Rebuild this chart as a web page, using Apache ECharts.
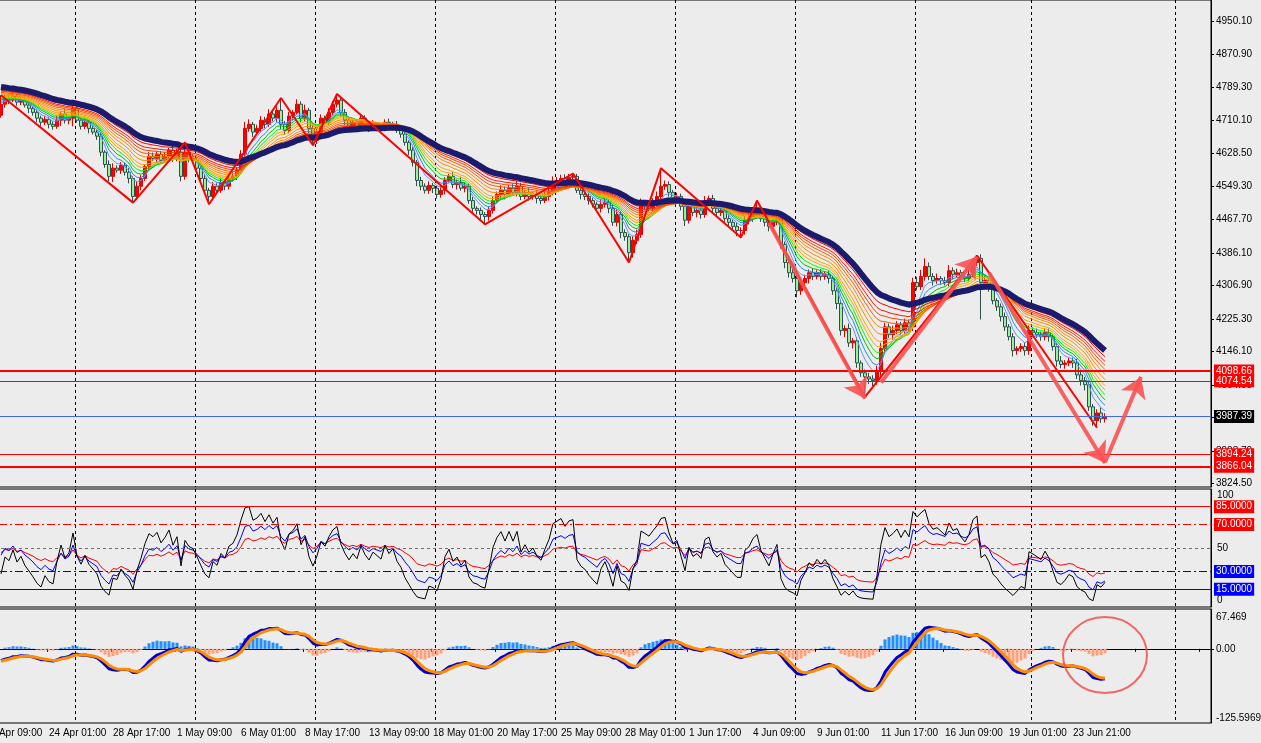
<!DOCTYPE html>
<html>
<head>
<meta charset="utf-8">
<script src="https://cdn.jsdelivr.net/npm/echarts@6/dist/echarts.min.js"></script>
<style>
html, body { margin: 0; padding: 0; background: #ececec; }
#main { width: 1261px; height: 743px; }
</style>
</head>
<body>
<div id="main"></div>
<script>
// H4 closes (one per candle, left to right)
var closes = [
  4749,4764,4759,4769,4754,4759,4747,4739,4729,4715,
  4705,4712,4700,4695,4710,4725,4710,4715,4739,4710,
  4695,4705,4690,4681,4671,4632,4602,4573,4593,4588,
  4600,4583,4568,4524,4549,4568,4597,4622,4617,4627,
  4612,4622,4637,4617,4632,4573,4632,4617,4612,4593,
  4568,4539,4524,4549,4539,4558,4549,4568,4573,4588,
  4627,4690,4700,4681,4690,4710,4700,4725,4715,4734,
  4700,4685,4720,4729,4749,4715,4734,4690,4661,4681,
  4715,4705,4729,4749,4759,4729,4710,4695,4705,4695,
  4715,4700,4690,4700,4695,4690,4705,4695,4700,4685,
  4676,4656,4637,4607,4563,4549,4539,4551,4544,4529,
  4539,4563,4573,4553,4558,4544,4549,4514,4495,4490,
  4480,4475,4490,4514,4529,4539,4529,4544,4534,4549,
  4524,4534,4524,4529,4519,4514,4524,4534,4558,4563,
  4568,4563,4571,4573,4539,4529,4524,4514,4505,4495,
  4505,4510,4495,4461,4480,4436,4426,4387,4417,4431,
  4505,4500,4495,4510,4524,4549,4553,4534,4519,4524,
  4500,4466,4505,4485,4490,4480,4514,4519,4495,4485,
  4490,4470,4461,4451,4441,4441,4466,4470,4480,4485,
  4470,4461,4451,4461,4470,4407,4363,4338,4324,4294,
  4314,4324,4338,4329,4338,4329,4334,4324,4294,4263,
  4197,4202,4167,4172,4118,4094,4084,4079,4075,4099,
  4153,4206,4187,4197,4211,4197,4216,4206,4314,4304,
  4329,4353,4329,4319,4324,4319,4314,4343,4334,4338,
  4329,4324,4334,4363,4373,4314,4319,4304,4270,4255,
  4231,4206,4182,4148,4153,4158,4148,4197,4192,4187,
  4182,4192,4182,4158,4123,4114,4118,4123,4118,4089,
  4075,4065,4011,3977,3996,3982,3987.39
];
var firstOpen = 4722;
// upper and lower shadows (price units)
var upWicks = [
  22,8,6,10,5,8,6,9,5,7, 6,8,5,7,10,6,12,5,18,8, 6,9,5,7,6,8,5,10,12,7,
  8,6,10,5,12,8,6,10,9,7, 8,10,6,12,8,10,24,6,9,7, 5,8,6,10,7,12,6,8,10,7,
  10,16,12,6,9,10,8,12,7,10, 30,8,10,6,12,7,14,6,8,10, 9,6,10,8,15,6,8,7,10,6,
  9,7,6,10,5,8,7,9,6,8, 6,7,5,8,6,9,7,10,6,8, 12,8,6,10,7,14,8,6,9,5,
  7,6,8,10,7,12,9,8,10,12, 8,6,10,7,9,6,12,10,15,8, 9,10,8,7,6,8,5,9,7,6,
  10,8,6,9,12,7,8,6,10,12, 14,8,6,10,12,44,10,8,6,9, 7,10,12,8,6,9,11,7,9,6,
  8,6,10,7,9,8,10,14,12,29, 8,10,6,9,12,8,7,6,10,8, 12,9,8,10,6,9,7,8,6,7,
  10,8,12,7,9,6,8,10,9,12, 14,10,8,12,9,7,10,8,12,14, 16,20,10,8,12,6,9,14,8,10,
  7,9,12,10,7,10,12,8,9,6, 8,10,7,9,6,8,10,12,8,10, 7,9,10,6,8,12,7,9,8,10,
  8,9,10,7,9,14,8
];
var downWicks = [
  6,8,10,5,9,7,6,12,8,10, 9,7,10,8,6,14,8,10,20,6, 8,7,12,6,9,10,8,12,14,6,
  9,8,12,15,8,10,6,9,7,10, 8,6,10,9,7,12,8,10,6,9, 10,8,19,7,9,6,10,8,7,9,
  6,10,8,12,7,9,10,6,8,9, 12,10,7,9,6,10,8,12,12,9, 7,10,6,9,8,10,12,6,9,8,
  10,7,9,6,12,8,7,10,9,6, 9,8,12,10,14,10,8,9,12,10, 8,10,7,9,12,6,10,8,12,10,
  12,19,10,8,7,9,12,6,8,10, 9,7,10,8,12,9,6,10,7,8, 6,9,8,10,7,12,9,10,8,9,
  10,8,12,9,10,14,10,24,12,9, 8,10,7,9,12,8,9,10,8,12, 10,14,8,9,12,10,8,9,10,7,
  9,8,12,10,14,17,10,10,8,9, 8,10,12,9,7,10,14,12,10,16, 10,8,12,9,7,10,8,12,10,14,
  12,16,10,14,12,10,49,12,14,10, 12,10,8,12,9,10,8,12,10,9, 8,10,9,12,8,10,7,9,12,8,
  10,9,7,8,9,90,10,12,9,10, 12,10,9,14,10,8,12,10,9,8, 10,9,12,10,14,9,10,8,12,10,
  12,14,10,12,17,10,9
];
// zigzag turning points: [candle index, 'H' | 'L']
var zigzagPivots = [[0,'H'],[33,'L'],[46,'H'],[52,'L'],[70,'H'],[78,'L'],[84,'H'],[121,'L'],
  [143,'H'],[157,'L'],[165,'H'],[185,'L'],[189,'H'],[216,'L'],[244,'H'],[274,'L']];
// hand-drawn arrows: [from candle, from price, to candle, to price]
var arrows = [[192,4460,216,4031],[220,4070,244,4377],[247,4338,276,3874],[276,3876,285,4084]];
// horizontal price lines
var levelPrices = [4098.66, 4074.54, 3987.39, 3894.24, 3866.04];
var priceTicks = [4950.10,4870.90,4789.30,4710.10,4628.50,4549.30,4467.70,4386.10,4306.90,4225.30,4146.10,4064.50,3985.30,3903.70,3824.50];
var timeLabels = ['21 Apr 09:00','24 Apr 01:00','28 Apr 17:00','1 May 09:00','6 May 01:00','8 May 17:00',
  '13 May 09:00','18 May 01:00','20 May 17:00','25 May 09:00','28 May 01:00','1 Jun 17:00',
  '4 Jun 09:00','9 Jun 01:00','11 Jun 17:00','16 Jun 09:00','19 Jun 01:00','23 Jun 21:00'];
// moving average ribbon (EMA periods) and their values at the left edge
var ribbonPeriods = [5,7,9,11,13,15,18,21,24,27,30,34];
var ribbonSeeds = [4752,4756,4760,4763,4766,4769,4772,4775,4778,4781,4783,4786];
var slowPeriod = 40, slowSeed = 4791;
var rsiPeriods = [6,12,24], rsiSeeds = [28,44,46], rsiMove = 12;
var oscLevels = [85,70,50,30,15];
var macdPeriods = [8,17,9,3];
var macdSeeds = [4762,4782,-20,-21];
var macdTicks = [67.469, 0, -125.5969];

var myChart = echarts.init(document.getElementById('main'));
var font = 'Liberation Sans, Arial, sans-serif';
var TOTAL = 307, OFF = 4;
var seps = [23,53,83,113,143,173,203,233,262,298];
var cats = [];
for (var j = 0; j < TOTAL; j++) cats.push(String(j));

function pad(arr, empty) {
  var out = [];
  for (var j = 0; j < TOTAL; j++) {
    var i = j - OFF;
    out.push(i >= 0 && i < arr.length ? arr[i] : empty);
  }
  return out;
}
function ema(src, n, seed) {
  var a = 2 / (n + 1), out = [seed];
  for (var i = 1; i < src.length; i++) out.push(out[i - 1] + a * (src[i] - out[i - 1]));
  return out;
}
function rsi(src, n, seed) {
  var g = rsiMove * seed / 100, l = rsiMove * (100 - seed) / 100, out = [seed];
  for (var i = 1; i < src.length; i++) {
    var ch = src[i] - src[i - 1];
    g = (g * (n - 1) + Math.max(ch, 0)) / n;
    l = (l * (n - 1) + Math.max(-ch, 0)) / n;
    out.push(100 * g / (g + l));
  }
  return out;
}

// candles
var opens = closes.map(function (c, i) { return i === 0 ? firstOpen : closes[i - 1]; });
var highs = closes.map(function (c, i) { return Math.max(opens[i], c) + upWicks[i]; });
var lows = closes.map(function (c, i) { return Math.min(opens[i], c) - downWicks[i]; });
var kData = closes.map(function (c, i) { return [opens[i], c, lows[i], highs[i]]; });

var zig = closes.map(function () { return null; });
zigzagPivots.forEach(function (p) { zig[p[0]] = p[1] === 'H' ? highs[p[0]] : lows[p[0]]; });

var ribbonColors = ['#6495ed','#1e90ff','#00c000','#00ff00','#ffa500','#ffa500','#ff8c00','#ff8c00','#ff5a00','#ff4500','#ff1a00','#ff0000'];

// MACD
var fast = ema(closes, macdPeriods[0], macdSeeds[0]);
var slow = ema(closes, macdPeriods[1], macdSeeds[1]);
var dif = fast.map(function (v, i) { return v - slow[i]; });
var dea = ema(dif, macdPeriods[2], macdSeeds[2]);
var sig = ema(dif, macdPeriods[3], macdSeeds[3]);
var hist = dif.map(function (v, i) { return +(v - dea[i]).toFixed(3); });

var series = [];
series.push({
  type: 'candlestick', xAxisIndex: 0, yAxisIndex: 0, barWidth: 3,
  data: pad(kData, '-'),
  itemStyle: { color: '#ff0000', color0: '#98f098', borderColor: '#e00000', borderColor0: '#2f4f4f', borderWidth: 1 },
  markLine: {
    silent: true, symbol: ['none', 'none'], animation: false,
    data: levelPrices.map(function (p) {
      var isCur = p === 3987.39;
      var thick = p === 4098.66 || p === 3866.04;
      return {
        yAxis: p,
        lineStyle: { color: isCur ? '#4169e1' : '#ff0000', width: thick ? 2 : 1, type: 'solid' },
        label: { backgroundColor: isCur ? '#000' : '#ff0000' }
      };
    }),
    label: { show: true, position: 'end', distance: 3, color: '#fff', fontSize: 10, fontFamily: font,
      padding: [2, 2, 1, 2], formatter: function (p) { return p.value.toFixed(2); } }
  }
});
ribbonPeriods.forEach(function (n, k) {
  series.push({ type: 'line', xAxisIndex: 0, yAxisIndex: 0, symbol: 'none', silent: true,
    data: pad(ema(closes, n, ribbonSeeds[k]), null),
    lineStyle: { color: ribbonColors[k], width: 1 } });
});
series.push({ type: 'line', xAxisIndex: 0, yAxisIndex: 0, symbol: 'none', silent: true,
  data: pad(ema(closes, slowPeriod, slowSeed), null),
  lineStyle: { color: '#1b1b6e', width: 6 } });
series.push({
  type: 'line', xAxisIndex: 0, yAxisIndex: 0, symbol: 'none', silent: true, connectNulls: true,
  data: pad(zig, null), lineStyle: { color: '#ff0000', width: 2 },
  markLine: {
    silent: true, symbol: ['none', 'arrow'], symbolSize: 20, animation: false,
    label: { show: false },
    lineStyle: { color: 'rgba(248,82,82,0.9)', width: 4, type: 'solid' },
    data: arrows.map(function (a) {
      return [{ coord: [a[0] + OFF, a[1]] }, { coord: [a[2] + OFF, a[3]] }];
    })
  }
});

// RSI panel
var rsiColors = ['#000000', '#0000ff', '#ff0000'];
[2, 1, 0].forEach(function (k) {
  var s = { type: 'line', xAxisIndex: 1, yAxisIndex: 1, symbol: 'none', silent: true,
    data: pad(rsi(closes, rsiPeriods[k], rsiSeeds[k]).map(function (v) { return +v.toFixed(2); }), null),
    lineStyle: { color: rsiColors[k], width: 1 } };
  if (k === 2) {
    s.markLine = {
      silent: true, symbol: ['none', 'none'], animation: false,
      label: { show: true, position: 'end', distance: 3, color: '#fff', fontSize: 10, fontFamily: font,
        padding: [2, 2, 1, 2], formatter: function (p) { return p.value.toFixed(4); } },
      data: oscLevels.map(function (v) {
        var c = v > 50 ? '#ff0000' : (v < 50 ? '#0000ff' : '#707070');
        var t = (v === 85 || v === 15) ? 'solid' : (v === 50 ? [3, 3] : [8, 3, 2, 3]);
        return { yAxis: v, lineStyle: { color: c, width: 1, type: t },
          label: v === 50 ? { show: false } : { backgroundColor: c } };
      })
    };
  }
  series.push(s);
});

// MACD panel
series.push({ type: 'bar', xAxisIndex: 2, yAxisIndex: 2, barWidth: 3, silent: true,
  data: pad(hist, '-'),
  itemStyle: { color: function (p) { return p.value >= 0 ? '#1e90ff' : '#ffa07a'; } } });
series.push({ type: 'line', xAxisIndex: 2, yAxisIndex: 2, symbol: 'none', silent: true,
  data: pad(dif.map(function (v) { return +v.toFixed(3); }), null), lineStyle: { color: '#0000cd', width: 3 } });
series.push({ type: 'line', xAxisIndex: 2, yAxisIndex: 2, symbol: 'none', silent: true,
  data: pad(sig.map(function (v) { return +v.toFixed(3); }), null), lineStyle: { color: '#ff8c00', width: 3 } });

function xAxisFor(g) {
  return {
    type: 'category', gridIndex: g, data: cats, boundaryGap: true,
    axisLine: { show: g === 2, lineStyle: { color: '#000' } },
    axisTick: { show: g === 2, interval: function (i) { return i % 16 === 0; }, length: 3, lineStyle: { color: '#000' } },
    axisLabel: { show: g === 2, interval: function (i) { return i % 16 === 0; }, align: 'left', margin: 5,
      color: '#000', fontSize: 10, fontFamily: font,
      formatter: function (v, i) { return timeLabels[i / 16] || ''; } },
    splitLine: { show: true, interval: function (i) { return seps.indexOf(i) >= 0; },
      lineStyle: { color: '#000', type: [3, 3], width: 1 } }
  };
}
var labelBase = { color: '#000', fontSize: 10, fontFamily: font };
function gridAt(top, height) {
  return { left: -17, right: 50, top: top, height: height, show: true, borderColor: '#000', borderWidth: 1,
    containLabel: false, outerBoundsMode: 'none' };
}

option = {
  animation: false,
  backgroundColor: '#ececec',
  grid: [gridAt(0, 487), gridAt(489, 118), gridAt(609, 114)],
  xAxis: [xAxisFor(0), xAxisFor(1), xAxisFor(2)],
  yAxis: [
    { type: 'value', gridIndex: 0, position: 'right', min: 3815.5, max: 5003.1,
      splitLine: { show: false }, axisLine: { show: true, lineStyle: { color: '#000' } },
      axisTick: { show: true, length: 3, customValues: priceTicks, lineStyle: { color: '#000' } },
      axisLabel: Object.assign({ customValues: priceTicks, margin: 5,
        formatter: function (v) { return v.toFixed(2); } }, labelBase) },
    { type: 'value', gridIndex: 1, position: 'right', min: 0, max: 100,
      splitLine: { show: false }, axisLine: { show: true, lineStyle: { color: '#000' } },
      axisTick: { show: false },
      axisLabel: Object.assign({ customValues: [100, 50, 0], margin: 6,
        formatter: function (v) { return v === 100 ? '{t|100}' : (v === 0 ? '{b|0}' : '50'); },
        rich: { t: Object.assign({ padding: [12, 0, 0, 0] }, labelBase), b: Object.assign({ padding: [0, 0, 13, 0] }, labelBase) }
      }, labelBase) },
    { type: 'value', gridIndex: 2, position: 'right', min: -125.5969, max: 67.469,
      splitLine: { show: false }, axisLine: { show: true, lineStyle: { color: '#000' } },
      axisTick: { show: true, length: 3, customValues: [0], lineStyle: { color: '#000' } },
      axisLabel: Object.assign({ customValues: macdTicks, margin: 5,
        formatter: function (v) { return v > 1 ? '{t|67.469}' : (v < -1 ? '{b|-125.5969}' : '0.00'); },
        rich: { t: Object.assign({ padding: [16, 0, 0, 0] }, labelBase), b: Object.assign({ padding: [0, 0, 10, 0] }, labelBase) }
      }, labelBase) }
  ],
  series: series
};

myChart.setOption(option);

// red circle around the latest MACD values
var circleAt = [276 + OFF, -10.5];
var c = myChart.convertToPixel({ xAxisIndex: 2, yAxisIndex: 2 }, circleAt);
myChart.setOption({
  graphic: [{ type: 'ellipse', shape: { cx: c[0], cy: c[1], rx: 42, ry: 38 },
    style: { fill: 'none', stroke: 'rgba(240,80,80,0.85)', lineWidth: 2 }, z: 100 }]
});
</script>
</body>
</html>
